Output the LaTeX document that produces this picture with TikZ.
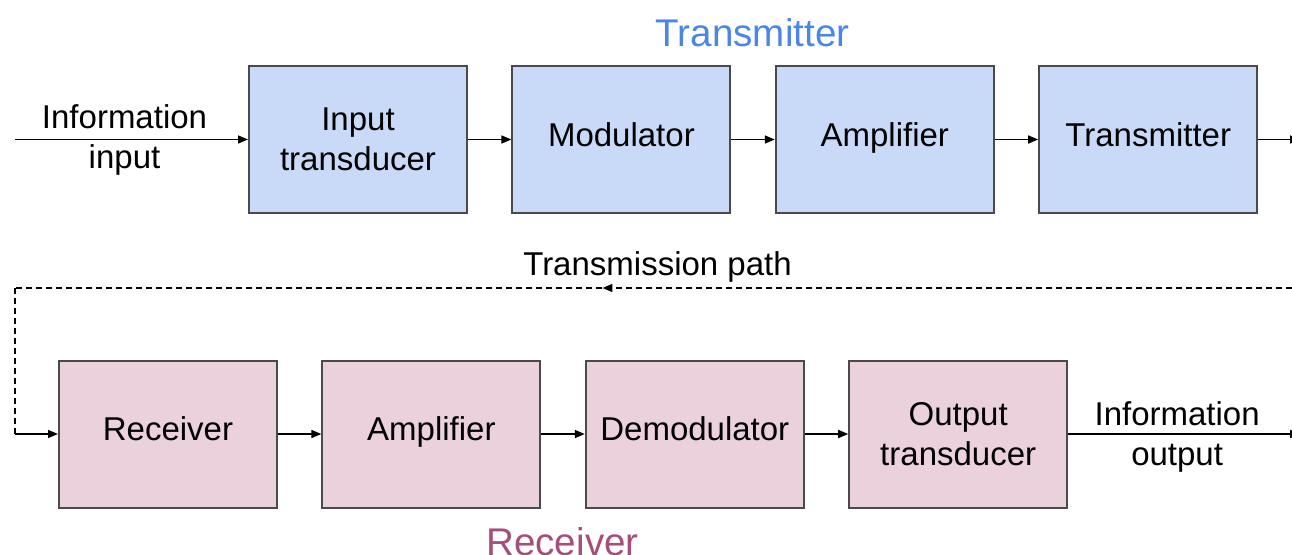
\documentclass[tikz,border=0pt]{standalone}
\usepackage{fontspec}
\setmainfont{Liberation Sans}
\definecolor{txfill}{HTML}{C9DAF8}
\definecolor{rxfill}{HTML}{EAD1DC}
\definecolor{boxline}{HTML}{4A4A4A}
\definecolor{txtitle}{HTML}{4A86E8}
\definecolor{rxtitle}{HTML}{A64D79}
\usetikzlibrary{arrows.meta, positioning, decorations.markings}

\begin{document}
\begin{tikzpicture}[
    node distance=21.7pt,
    font=\fontsize{16.5}{20}\selectfont,
    box/.style={
        rectangle,
        draw=boxline,
        line width=1pt,
        minimum width=109pt,
        minimum height=73.5pt,
        align=center
    },
    onebox/.style={box, text depth=5pt},
    arr/.style={-{Triangle[length=5pt,width=4pt]}, line width=0.8pt},
    lab/.style={align=center, inner sep=0pt},
    title/.style={font=\fontsize{19.3}{22}\selectfont}
]
\useasboundingbox (0,0) rectangle (646pt,-277pt);

% transmitter row
\node[box, fill=txfill] (inT) at (179pt,-69.75pt) {Input\\transducer};
\node[onebox, fill=txfill, right=of inT]  (mod)  {Modulator};
\node[onebox, fill=txfill, right=of mod]  (ampT) {Amplifier};
\node[onebox, fill=txfill, right=of ampT] (tx)   {Transmitter};

% receiver row
\node[onebox, fill=rxfill] (rx) at (84pt,-217pt) {Receiver};
\node[onebox, fill=rxfill, right=of rx]    (ampR)  {Amplifier};
\node[onebox, fill=rxfill, right=of ampR]  (demod) {Demodulator};
\node[box, fill=rxfill, right=of demod]    (outT)  {Output\\transducer};

\node[title, text=txtitle] (txlab) at (376.25pt,-16.5pt) {Transmitter};
\node[title, text=rxtitle] (rxlab) at (281.25pt,-271pt) {Receiver};

\coordinate (inL)   at (7.5pt,-69.75pt);
\coordinate (txR)   at (650pt,-69.75pt);
\coordinate (pathR) at (646pt,-144pt);
\coordinate (pathL) at (7.5pt,-144pt);
\coordinate (pathB) at (pathL |- rx);
\coordinate (outR)  at (650pt,-217pt);

\draw[arr] (inL) -- node[lab, pos=0.47]{Information\\input} (inT);
\draw[arr] (inT) -- (mod);
\draw[arr] (mod) -- (ampT);
\draw[arr] (ampT) -- (tx);
\draw[arr] (tx) -- (txR);

% transmission path
\draw[line width=0.8pt, dash pattern=on 3pt off 2pt,
      postaction={decorate},
      decoration={markings, mark=at position 0.54 with {\arrow{Triangle[length=5pt,width=4pt]}}}]
    (pathR) -- node[above, inner sep=2.3pt, xshift=2pt]{Transmission path} (pathL);
\draw[line width=0.8pt, dash pattern=on 3pt off 2pt] (pathL) -- (pathB);
\draw[arr] (pathB) -- (rx);

\draw[arr] (rx) -- (ampR);
\draw[arr] (ampR) -- (demod);
\draw[arr] (demod) -- (outT);
\draw[arr] (outT) -- node[lab, pos=0.47, yshift=-1.5pt]{Information\\output} (outR);

\end{tikzpicture}
\end{document}
